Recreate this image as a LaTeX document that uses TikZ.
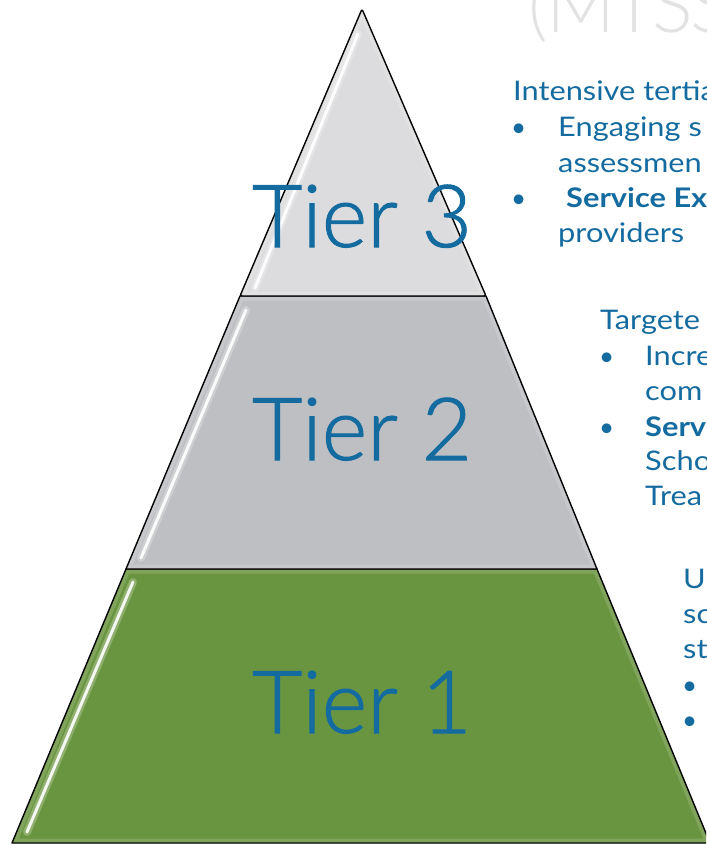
\documentclass[tikz,border=0pt]{standalone}
\usepackage{fontspec}
\setmainfont{Lato}
% wide face for the descriptions, light faces for the big labels and title
\newfontfamily\sidefont[FakeStretch=1.14]{Lato}
\IfFontExistsTF{Lato Light}
  {\newfontfamily\labelfont[FakeBold=1.2]{Lato Light}\newfontfamily\titlefont{Lato Light}}
  {\newfontfamily\labelfont{Lato}\newfontfamily\titlefont{Lato}}
\definecolor{tierblue}{HTML}{146BA0}
\definecolor{titlegray}{HTML}{E2E2E2}
\definecolor{tierthree}{HTML}{DCDCDE}
\definecolor{tiertwo}{HTML}{BDBFC2}
\definecolor{tierone}{HTML}{6A9540}
\begin{document}
\begin{tikzpicture}[x=1pt,y=-1pt,
  tieroutline/.style={draw=black, line width=1.4pt, line join=round},
  tierlabel/.style={anchor=base, inner sep=0pt, text=tierblue, font=\labelfont\fontsize{87}{90}\selectfont},
  sidetext/.style={anchor=base west, inner sep=0pt, text=tierblue, font=\sidefont\fontsize{27}{35}\selectfont},
  sidebold/.style={sidetext, font=\sidefont\fontsize{27}{35}\selectfont\bfseries},
  bulletmark/.style={anchor=base west, inner sep=0pt, text=tierblue, font=\fontsize{26}{35}\selectfont},
  shine/.style={white, line width=3pt, line cap=round, opacity=0.9},
  glow/.style={white, line width=8pt, line cap=round, opacity=0.25},
  rim/.style={white, line width=9pt, opacity=0.15}]
\useasboundingbox (0,0) rectangle (706,845);
\clip (0,0) rectangle (706,845);

% pyramid corners
\coordinate (apex) at (362,9);
\coordinate (t3l) at (240,296);
\coordinate (t3r) at (486,296);
\coordinate (t2l) at (126,569);
\coordinate (t2r) at (597,569);
\coordinate (t1l) at (12,843);
\coordinate (t1r) at (710,843);

% title (runs past the page edge)
\node[anchor=base west, inner sep=0pt, text=titlegray, font=\titlefont\fontsize{76}{84}\selectfont] (title) at (528,33) {(\kern-1ptM\kern-3ptT\kern-4ptS\kern-3ptS};

% tier 1
\fill[tierone] (t2l) -- (t2r) -- (t1r) -- (t1l) -- cycle;
\begin{scope}
  \clip (t2l) -- (t2r) -- (t1r) -- (t1l) -- cycle;
  \draw[rim] (t2l) -- (t2r) -- (t1r) -- (t1l) -- cycle;
\end{scope}
\draw[glow] (133,582) -- (27,832);
\draw[shine] (133,582) -- (27,832);
\draw[tieroutline] (t2l) -- (t2r) -- (t1r) -- (t1l) -- cycle;

% tier 2
\fill[tiertwo] (t3l) -- (t3r) -- (t2r) -- (t2l) -- cycle;
\begin{scope}
  \clip (t3l) -- (t3r) -- (t2r) -- (t2l) -- cycle;
  \draw[rim] (t3l) -- (t3r) -- (t2r) -- (t2l) -- cycle;
\end{scope}
\draw[glow] (246,310) -- (141,558);
\draw[shine] (246,310) -- (141,558);
\draw[tieroutline] (t3l) -- (t3r) -- (t2r) -- (t2l) -- cycle;

% tier 3
\fill[tierthree, rounded corners=2pt] (apex) -- (t3r) -- (t3l) -- cycle;
\begin{scope}
  \clip (apex) -- (t3r) -- (t3l) -- cycle;
  \draw[rim] (apex) -- (t3r) -- (t3l) -- cycle;
\end{scope}
\draw[glow] (358,34) -- (255,288);
\draw[shine] (358,34) -- (255,288);
\draw[tieroutline, rounded corners=2pt] (apex) -- (t3r) -- (t3l) -- cycle;

% tier labels
\node[tierlabel] (lab3) at (362,247) {Tier 3};
\node[tierlabel] (lab2) at (362,460) {Tier 2};
\node[tierlabel] (lab1) at (362,733) {Tier 1};

% tier 3 description
\node[sidetext] (d3a) at (513,101) {Intensive tertia};
\node[bulletmark] (d3b1) at (511,137) {•};
\node[sidetext] (d3b) at (558,137) {Engaging s};
\node[sidetext] (d3c) at (558,172) {assessmen};
\node[bulletmark] (d3b2) at (511,207) {•};
\node[sidebold] (d3d) at (566,207) {Service Ex};
\node[sidetext] (d3e) at (558,242) {providers};

% tier 2 description
\node[sidetext] (d2a) at (600,329) {Targete};
\node[bulletmark] (d2b1) at (599,365) {•};
\node[sidetext] (d2b) at (645,365) {Incre};
\node[sidetext] (d2c) at (645,400) {com};
\node[bulletmark] (d2b2) at (599,436) {•};
\node[sidebold] (d2d) at (645,436) {Serv};
\node[sidetext] (d2e) at (645,470) {Scho};
\node[sidetext] (d2f) at (645,505) {Trea};

% tier 1 description
\node[sidetext] (d1a) at (683,588) {U};
\node[sidetext] (d1b) at (683,623) {sc};
\node[sidetext] (d1c) at (683,658) {st};
\node[bulletmark] (d1b1) at (682,694) {•};
\node[bulletmark] (d1b2) at (682,729) {•};
\end{tikzpicture}
\end{document}
